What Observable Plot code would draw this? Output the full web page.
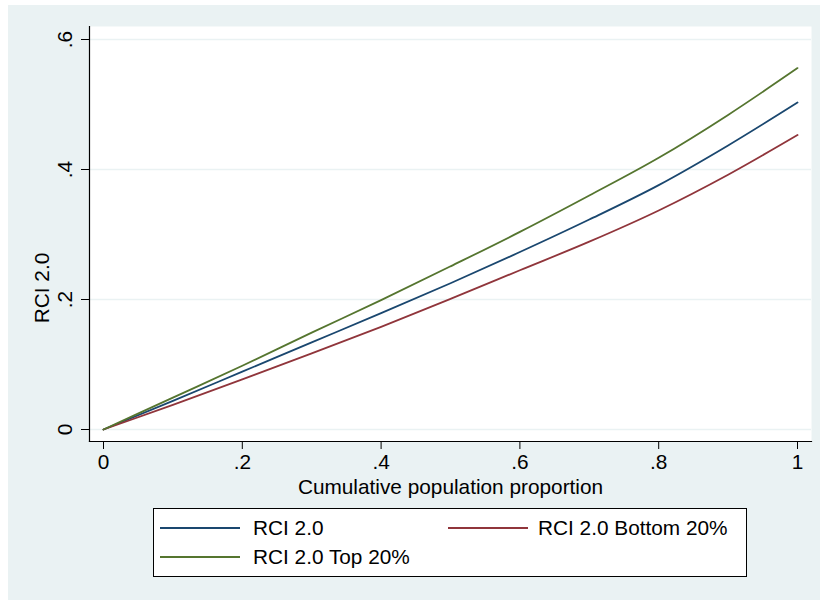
<!DOCTYPE html>
<html><head><meta charset="utf-8">
<script src="https://cdn.jsdelivr.net/npm/d3@7"></script>
<script src="https://cdn.jsdelivr.net/npm/@observablehq/plot@0.6"></script>
<style>
body{margin:0;background:#fff;}
#wrap{position:relative;width:820px;height:600px;overflow:hidden;font-family:"Liberation Sans",Arial,sans-serif;}
#bg{position:absolute;left:8px;top:5px;width:812px;height:595px;background:#EAF2F3;}
#chart{position:absolute;left:0;top:0;}
#legend{position:absolute;left:153px;top:508px;width:594px;height:69px;box-sizing:border-box;border:1px solid #000;background:#fff;}
.sw{position:absolute;height:0;border-top:2px solid;width:80px;}
.lt{position:absolute;font-size:20.8px;line-height:20px;white-space:nowrap;color:#000;}
</style></head><body>
<div id="wrap"><div id="bg"></div><div id="chart"></div><div id="legend"></div></div>
<script>
const xValues   = [0, 0.1, 0.2, 0.3, 0.4, 0.5, 0.6, 0.7, 0.8, 0.9, 1.0];
const rci       = [0, 0.044, 0.089, 0.134, 0.179, 0.225, 0.273, 0.323, 0.376, 0.437, 0.503];
const rciBottom = [0, 0.038, 0.077, 0.117, 0.158, 0.201, 0.245, 0.289, 0.337, 0.392, 0.453];
const rciTop    = [0, 0.049, 0.098, 0.149, 0.199, 0.251, 0.304, 0.360, 0.418, 0.484, 0.556];
const seriesNames  = ["RCI 2.0", "RCI 2.0 Bottom 20%", "RCI 2.0 Top 20%"];
const seriesColors = ["#1A476F", "#90353B", "#55752F"];
const xTicks = [0, 0.2, 0.4, 0.6, 0.8, 1];
const yTicks = [0, 0.2, 0.4, 0.6];
const xTitle = "Cumulative population proportion";
const yTitle = "RCI 2.0";

const seriesValues = [rci, rciBottom, rciTop];
const rows = [];
seriesValues.forEach((vals, i) => vals.forEach((v, j) => rows.push({x: xValues[j], y: v, series: seriesNames[i]})));

const fmt = d => d === 0 ? "0" : d === 1 ? "1" : d3.format(".1f")(d).replace(/^0/, "");

const chart = Plot.plot({
  width: 820, height: 500,
  marginTop: 26, marginBottom: 59, marginLeft: 89, marginRight: 9,
  insetTop: 13, insetBottom: 12, insetLeft: 14, insetRight: 14,
  x: {domain: [0, 1]},
  y: {domain: [0, 0.6]},
  color: {domain: seriesNames, range: seriesColors},
  style: {background: "transparent", fontFamily: "Liberation Sans, Arial, sans-serif", fontSize: "20.8px", color: "#000"},
  marks: [
    Plot.frame({fill: "white", stroke: null}),
    Plot.gridY(yTicks, {stroke: "#EAF2F3", strokeOpacity: 1, strokeWidth: 1.5}),
    Plot.line(rows, {x: "x", y: "y", z: "series", stroke: "series", strokeWidth: 1.8, curve: "monotone-x"}),
    Plot.frame({anchor: "left", stroke: "#000", strokeWidth: 1.2}),
    Plot.frame({anchor: "bottom", stroke: "#000", strokeWidth: 1.2}),
    Plot.axisX(xTicks, {tickSize: 8, tickPadding: 5, tickFormat: fmt, label: null, stroke: "#000", fill: "#000"}),
    Plot.axisY(yTicks, {tickSize: 8, fill: "none", label: null, stroke: "#000"}),
    Plot.text(yTicks, {y: d => d, text: fmt, frameAnchor: "left", rotate: -90, dx: -18, lineAnchor: "bottom", textAnchor: "middle", fill: "#000"}),
    Plot.text([yTitle], {text: d => d, frameAnchor: "left", rotate: -90, dx: -41, dy: 54, lineAnchor: "bottom", textAnchor: "middle", fill: "#000"}),
    Plot.text([xTitle], {text: d => d, frameAnchor: "bottom", dy: 52, lineAnchor: "bottom", textAnchor: "middle", fill: "#000"})
  ]
});
document.getElementById("chart").appendChild(chart);

// legend
const legendPos = [
  {line: [6, 19], text: [99, 9]},
  {line: [294, 19], text: [384, 9]},
  {line: [6, 48], text: [99, 38]}
];
const legend = document.getElementById("legend");
seriesNames.forEach((name, i) => {
  const p = legendPos[i];
  const sw = document.createElement("div");
  sw.className = "sw";
  sw.style.left = p.line[0] + "px";
  sw.style.top = (p.line[1] - 1) + "px";
  sw.style.borderTopColor = seriesColors[i];
  legend.appendChild(sw);
  const t = document.createElement("div");
  t.className = "lt";
  t.style.left = p.text[0] + "px";
  t.style.top = p.text[1] + "px";
  t.textContent = name;
  legend.appendChild(t);
});
</script>
</body></html>
